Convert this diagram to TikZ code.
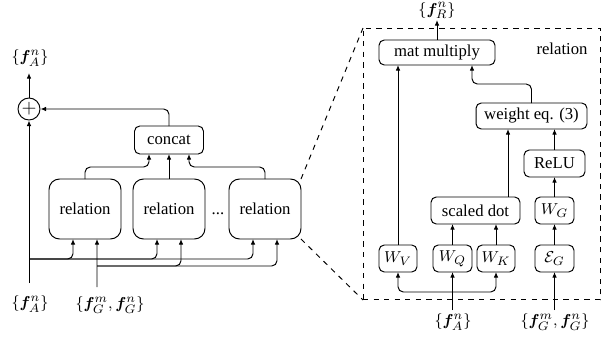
\documentclass[tikz,border=0pt]{standalone}
\usepackage{fontspec}
\setmainfont{Liberation Serif}
\usepackage{amsmath,bm}
\usetikzlibrary{arrows.meta}

\tikzset{
	blk/.style={draw, rounded corners=3pt, minimum height=0.54cm, inner sep=1pt, outer sep=0pt, font=\rmfamily\fontsize{9.5}{11}\selectfont},
	relbox/.style={blk, rounded corners=6pt, minimum width=1.44cm, minimum height=1.2cm},
	arr/.style={-{Latex[length=3.2pt,width=2.6pt]}},
	lbl/.style={inner sep=0pt, font=\rmfamily\fontsize{9.5}{11}\selectfont},
}

\begin{document}
\begin{tikzpicture}[x=0.02cm, y=-0.02cm, line width=0.55pt]
	\useasboundingbox (0,0) rectangle (605,341);
	
	% left: several relation modules
	\coordinate (fAout) at (29,73);
	\coordinate (inA) at (29,283);
	\coordinate (jA) at (29,259);
	\coordinate (inG) at (97,287);
	\coordinate (jG) at (97,266);
	
	\node[circle, draw, minimum size=0.44cm, inner sep=0pt, font=\fontsize{11}{11}\selectfont] (plus) at (29,109) {$+$};
	\node[blk, minimum width=1.38cm, minimum height=0.56cm] (concat) at (169,140) {concat};
	\node[relbox] (rel1) at (85,209) {relation};
	\node[relbox] (rel2) at (169,209) {relation};
	\node[relbox] (rel3) at (265,209) {relation};
	\node[lbl] (dots) at (218,214) {...};
	
	\node[lbl] (fAtop) at (30,58) {$\{\bm{f}_A^n\}$};
	\node[lbl] (fAbot) at (30,304) {$\{\bm{f}_A^n\}$};
	\node[lbl] (fGbot) at (110,305) {$\{\bm{f}_G^m,\bm{f}_G^n\}$};
	
	\draw[arr] (plus.north) -- (fAout);
	\draw[arr, rounded corners=3pt] (concat.north) |- (plus.east);
	\draw[arr, rounded corners=3pt] (rel1.north) -- ++(0,-12) -| ([xshift=-0.4cm]concat.south);
	\draw[arr] (rel2.north) -- (concat.south);
	\draw[arr, rounded corners=3pt] (rel3.north) -- ++(0,-12) -| ([xshift=0.4cm]concat.south);
	
	\draw[arr] (inA) -- (plus.south);
	\draw[arr, rounded corners=3pt] (jA) -| ([xshift=-0.24cm]rel1.south);
	\draw[arr, rounded corners=3pt] (jA) -| ([xshift=-0.24cm]rel2.south);
	\draw[arr, rounded corners=3pt] (jA) -| ([xshift=-0.24cm]rel3.south);
	\draw[arr] (inG) -- ([xshift=0.24cm]rel1.south);
	\draw[arr, rounded corners=3pt] (jG) -| ([xshift=0.24cm]rel2.south);
	\draw[arr, rounded corners=3pt] (jG) -| ([xshift=0.24cm]rel3.south);
	
	% right: inside one relation module
	\node[draw, dashed, minimum width=4.74cm, minimum height=5.44cm, inner sep=0pt, outer sep=0pt] (frame) at (481.5,164) {};
	\node[lbl] (title) at (562,49) {relation};
	
	\draw[dashed] (rel3.north east) -- (frame.north west);
	\draw[dashed] (rel3.south east) -- (frame.south west);
	
	\node[blk, minimum width=2.32cm, minimum height=0.5cm] (mat) at (437,52.5) {mat multiply};
	\node[blk, minimum width=2.22cm, minimum height=0.52cm] (weight) at (531.5,116) {weight eq. (3)};
	\node[blk, minimum width=1.22cm] (relu) at (554.5,163.5) {ReLU};
	\node[blk, minimum width=0.78cm] (wg) at (554.5,210.5) {$W_G$};
	\node[blk, minimum width=0.78cm] (eg) at (554.5,258.5) {$\mathcal{E}_G$};
	\node[blk, minimum width=1.78cm] (sdot) at (475.5,210.5) {scaled dot};
	\node[blk, minimum width=0.76cm] (wv) at (398,258.5) {$W_V$};
	\node[blk, minimum width=0.78cm] (wq) at (452.5,258.5) {$W_Q$};
	\node[blk, minimum width=0.76cm] (wk) at (496,258.5) {$W_K$};
	
	\coordinate (fRout) at (437,20);
	\coordinate (inA2) at (452.5,310);
	\coordinate (jA2) at (452.5,292);
	\coordinate (inG2) at (554.5,310);
	
	\node[lbl] (fRtop) at (437,10.5) {$\{\bm{f}_R^n\}$};
	\node[lbl] (fAbot2) at (453,322) {$\{\bm{f}_A^n\}$};
	\node[lbl] (fGbot2) at (555,322) {$\{\bm{f}_G^m,\bm{f}_G^n\}$};
	
	\draw[arr] (mat.north) -- (fRout);
	\draw[arr] (wv.north) -- (wv.north |- mat.south);
	\draw[arr, rounded corners=3pt] (weight.north) -- ++(0,-19) -| ([xshift=0.7cm]mat.south);
	\draw[arr] ([xshift=0.65cm]sdot.north) -- ([xshift=0.65cm]sdot.north |- weight.south);
	\draw[arr] (relu.north) -- (relu.north |- weight.south);
	\draw[arr] (wg) -- (relu);
	\draw[arr] (eg) -- (wg);
	\draw[arr] (wq.north) -- (wq.north |- sdot.south);
	\draw[arr] (wk.north) -- (wk.north |- sdot.south);
	
	\draw[arr] (inA2) -- (wq.south);
	\draw[arr, rounded corners=3pt] (jA2) -| (wv.south);
	\draw[arr, rounded corners=3pt] (jA2) -| (wk.south);
	\draw[arr] (inG2) -- (eg.south);
\end{tikzpicture}
\end{document}
